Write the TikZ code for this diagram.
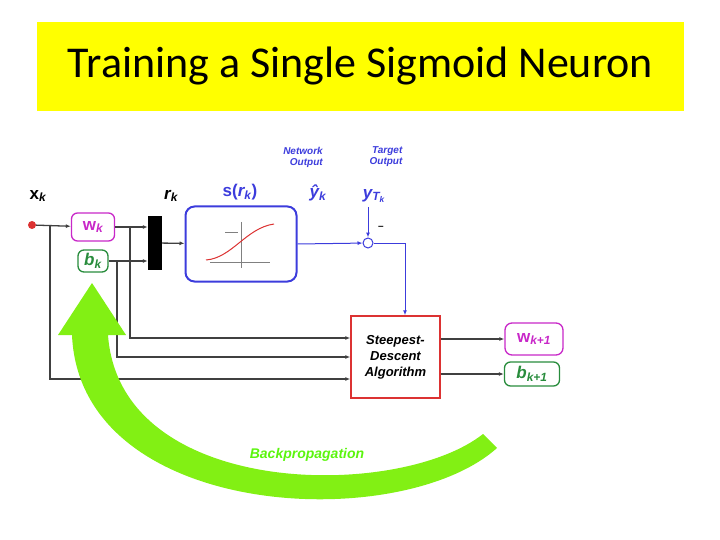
\documentclass[tikz,border=0pt]{standalone}
\usepackage{fontspec}
\setmainfont{Liberation Sans}
\newfontfamily\titlefont{Carlito}
\usetikzlibrary{arrows.meta}
\definecolor{ttl}{RGB}{255,255,0}
\definecolor{bl}{RGB}{60,60,220}
\definecolor{mg}{RGB}{200,40,200}
\definecolor{gn}{RGB}{40,140,60}
\definecolor{rd}{RGB}{220,50,50}
\definecolor{lg}{RGB}{130,240,20}
\newcommand{\sbk}[1]{\textsubscript{\itshape #1}}
\begin{document}
\begin{tikzpicture}[x=1pt,y=-1pt,
  wire/.style={draw=black!75,line width=1.3pt,-{Latex[length=5pt,width=4pt]}},
  bwire/.style={draw=bl,line width=1pt,-{Latex[length=5pt,width=4pt]}},
  lab/.style={font=\bfseries\fontsize{17}{17}\selectfont},
  small/.style={font=\bfseries\itshape\fontsize{10}{11}\selectfont,text=bl,align=right}]
\useasboundingbox (0,0) rectangle (720,540);
\node[fill=ttl,minimum width=647pt,minimum height=89pt,inner sep=0pt,
  font=\titlefont\fontsize{44}{44}\selectfont] (title) at (360.5,66.5) {Training a Single Sigmoid Neuron};
% input
\node[lab] (xk) at (38,196) {x\sbk{k}};
\node[circle,fill=rd,inner sep=0pt,minimum size=8pt] (dot) at (32,225) {};
\node[draw=mg,line width=1.3pt,rounded corners=6pt,minimum width=43pt,minimum height=28pt,text=mg,lab] (w) at (93,227) {w\sbk{k}};
\node[draw=gn,line width=1.3pt,rounded corners=6pt,minimum width=30pt,minimum height=22pt,inner sep=1pt,text=gn,lab] (b) at (93,261) {\itshape b\sbk{k}};
\node[fill=black,minimum width=14pt,minimum height=54pt,inner sep=0pt] (bar) at (155,243) {};
\node[lab] (rk) at (171,196) {\itshape r\sbk{k}};
\node[draw=bl,line width=2pt,rounded corners=9pt,minimum width=111pt,minimum height=75pt] (s) at (241,244) {};
\node[lab,text=bl] (sl) at (240,192) {s({\itshape r}\sbk{k})};
% sigmoid plot
\draw[gray,line width=0.5pt] (210,262) -- (270,262) (241,222) -- (241,268) (225,232) -- (238,232);
\draw[rd,line width=1pt] (206,260) .. controls (232,258) and (246,228) .. (274,224);
\node[circle,draw=bl,line width=1pt,minimum size=10pt,inner sep=0pt] (sum) at (368,243) {};
\node[lab,text=bl] (yh) at (318,193) {\itshape ŷ\sbk{k}};
\node[lab,text=bl] (yt) at (374,196) {\itshape y\textsubscript{T\textsubscript{k}}};
\node[small] (no) at (303,157) {Network\\Output};
\node[small] (to) at (386,157) {Target\\Output};
\node[font=\bfseries] (mn) at (381,228) {--};
\coordinate (ytb) at (368,207);
\coordinate (turn) at (405,243);
\node[draw=rd,line width=1.5pt,minimum width=89pt,minimum height=82pt,align=center,
  font=\bfseries\itshape\fontsize{13}{16}\selectfont] (sd) at (395.5,357) {Steepest-\\Descent\\Algorithm};
\node[draw=mg,line width=1.3pt,rounded corners=7pt,minimum width=58pt,minimum height=32pt,inner sep=1pt,text=mg,lab] (w1) at (534,339) {w\sbk{k+1}};
\node[draw=gn,line width=1.3pt,rounded corners=6pt,minimum width=55pt,minimum height=24pt,inner sep=1pt,text=gn,lab] (b1) at (532,374) {\itshape b\sbk{k+1}};
% wires
\draw[wire] (dot) -- (w);
\draw[wire] (w.east) -- (bar.west |- w.east);
\draw[wire] (b.east) -- (bar.west |- b.east);
\draw[wire] (bar) -- (s);
\draw[wire] (50,225) -- (50,379) -- (sd.west |- 0,379);
\draw[wire] (117,261) -- (117,357) -- (sd.west |- 0,357);
\draw[wire] (130,227) -- (130,338) -- (sd.west |- 0,338);
\draw[bwire] (s.east) -- (sum);
\draw[bwire] (ytb) -- (sum);
\draw[bwire] (sum.east) -- (turn) -- (turn |- sd.north);
\draw[wire] (sd.east |- w1) -- (w1);
\draw[wire] (sd.east |- b1) -- (b1);
% backprop arrow
\fill[lg] (497,448) .. controls (400,535) and (80,520) .. (72,335) -- (58,335) -- (92,283) -- (126,335) -- (108,335)
  .. controls (120,500) and (400,500) .. (483,434) -- cycle;
\node[font=\bfseries\itshape\fontsize{14}{14}\selectfont,text=lg!70!green] (bp) at (307,455) {Backpropagation};
\end{tikzpicture}
\end{document}
